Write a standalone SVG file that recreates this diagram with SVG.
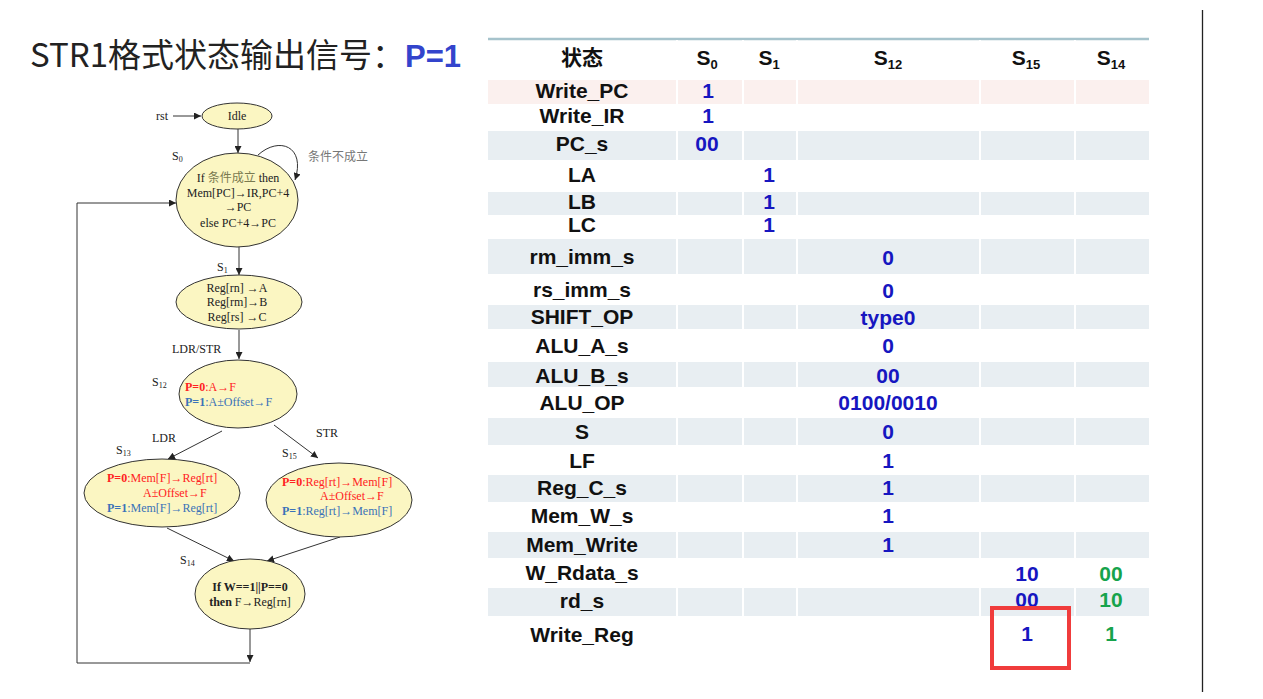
<svg xmlns="http://www.w3.org/2000/svg" width="1263" height="699" viewBox="0 0 1263 699">
<defs>
<marker id="ah" viewBox="0 0 10 10" refX="10" refY="5" markerWidth="7" markerHeight="7" orient="auto" markerUnits="userSpaceOnUse">
<path d="M0,0 L10,5 L0,10 z" fill="#222"/>
</marker>
<style>
.st{fill:#fbf6c2;stroke:#333;stroke-width:1}
.t{font-family:"Liberation Serif","Noto Sans CJK SC",serif;font-size:12px;fill:#222}
.c{text-anchor:middle}
.r{fill:#ff2222}
.b{fill:#3a72b8}
.gr{fill:#777}
.e{stroke:#333;stroke-width:1;fill:none}
.band{fill:#e8eef2}
.L{font-family:"Liberation Sans","Noto Sans CJK SC",sans-serif;font-weight:bold;font-size:21px;fill:#111;text-anchor:middle}
.v{fill:#1616c0}
.g{fill:#16a34c}
</style>
</defs>
<rect width="1263" height="699" fill="#fff"/>

<!-- title -->
<text x="30" y="67" font-family="Noto Sans CJK SC, sans-serif" font-size="33" fill="#222">STR1格式状态输出信号：<tspan font-family="Liberation Sans, sans-serif" font-weight="bold" fill="#3344cc" font-size="31">P=1</tspan></text>

<line x1="1202.5" y1="10" x2="1202.5" y2="692" stroke="#222" stroke-width="1.3"/>

<!-- connectors -->
<g id="connectors">
<line class="e" x1="173" y1="116" x2="201" y2="116" marker-end="url(#ah)"/>
<line class="e" x1="238" y1="129" x2="238" y2="153" marker-end="url(#ah)"/>
<path class="e" d="M258,155 C279,136 306,146 295,180" marker-end="url(#ah)"/>
<line class="e" x1="239" y1="247" x2="239" y2="275" marker-end="url(#ah)"/>
<line class="e" x1="239" y1="330" x2="239" y2="359" marker-end="url(#ah)"/>
<line class="e" x1="222" y1="431" x2="168" y2="459" marker-end="url(#ah)"/>
<line class="e" x1="274" y1="425" x2="318" y2="458" marker-end="url(#ah)"/>
<line class="e" x1="167" y1="528" x2="234" y2="561" marker-end="url(#ah)"/>
<line class="e" x1="340" y1="537" x2="267" y2="561" marker-end="url(#ah)"/>
<line class="e" x1="250" y1="629" x2="250" y2="662" marker-end="url(#ah)"/>
<polyline class="e" points="250,663 77,663 77,203 176,203" marker-end="url(#ah)"/>
<text class="t" x="156" y="120">rst</text>
<text class="t gr" x="308" y="161">条件不成立</text>
<text class="t" x="172" y="353">LDR/STR</text>
<text class="t" x="152" y="442">LDR</text>
<text class="t" x="316" y="437">STR</text>
</g>

<g id="idle">
<ellipse class="st" cx="237" cy="116" rx="35" ry="13"/>
<text class="t c" x="237" y="120">Idle</text>
</g>

<g id="s0">
<text class="t" x="172" y="160">S<tspan font-size="8" dy="2">0</tspan></text>
<ellipse class="st" cx="237" cy="200" rx="61" ry="47"/>
<text class="t c" x="238" y="182">If <tspan fill="#7a7a50">条件成立</tspan> then</text>
<text class="t c" x="238" y="197">Mem[PC]→IR,PC+4</text>
<text class="t c" x="238" y="211">→PC</text>
<text class="t c" x="238" y="227">else PC+4→PC</text>
</g>

<g id="s1">
<text class="t" x="217" y="271">S<tspan font-size="8" dy="2">1</tspan></text>
<ellipse class="st" cx="239" cy="302" rx="63" ry="27"/>
<text class="t c" x="237" y="292">Reg[rn] →A</text>
<text class="t c" x="237" y="306">Reg[rm]→B</text>
<text class="t c" x="237" y="321">Reg[rs] →C</text>
</g>

<g id="s12">
<text class="t" x="152" y="386">S<tspan font-size="8" dy="2">12</tspan></text>
<ellipse class="st" cx="238" cy="394" rx="59" ry="34"/>
<text class="t r" x="185" y="391"><tspan font-weight="bold">P=0</tspan>:A→F</text>
<text class="t b" x="185" y="406"><tspan font-weight="bold">P=1</tspan>:A±Offset→F</text>
</g>

<g id="s13">
<text class="t" x="116" y="454">S<tspan font-size="8" dy="2">13</tspan></text>
<ellipse class="st" cx="162" cy="493" rx="78" ry="34"/>
<text class="t r" x="107" y="482"><tspan font-weight="bold">P=0</tspan>:Mem[F]→Reg[rt]</text>
<text class="t r" x="143" y="497">A±Offset→F</text>
<text class="t b" x="107" y="512"><tspan font-weight="bold">P=1</tspan>:Mem[F]→Reg[rt]</text>
</g>

<g id="s15">
<text class="t" x="282" y="457">S<tspan font-size="8" dy="2">15</tspan></text>
<ellipse class="st" cx="339" cy="500" rx="73" ry="37"/>
<text class="t r" x="282" y="486"><tspan font-weight="bold">P=0</tspan>:Reg[rt]→Mem[F]</text>
<text class="t r" x="320" y="500">A±Offset→F</text>
<text class="t b" x="282" y="515"><tspan font-weight="bold">P=1</tspan>:Reg[rt]→Mem[F]</text>
</g>

<g id="s14">
<text class="t" x="180" y="564">S<tspan font-size="8" dy="2">14</tspan></text>
<ellipse class="st" cx="250" cy="594" rx="55" ry="35"/>
<text class="t c" x="250" y="591" font-weight="bold">If W==1||P==0</text>
<text class="t c" x="250" y="606"><tspan font-weight="bold">then</tspan> F→Reg[rn]</text>
</g>

<!-- table -->
<g id="table">
<line x1="488" y1="39" x2="1149" y2="39" stroke="#a6c3cc" stroke-width="2.5"/>
<rect x="488" y="80" width="661" height="24" fill="#fbf0ee"/>
<rect class="band" x="488" y="131" width="661" height="29"/>
<rect class="band" x="488" y="192" width="661" height="23"/>
<rect class="band" x="488" y="239" width="661" height="35"/>
<rect class="band" x="488" y="305" width="661" height="24"/>
<rect class="band" x="488" y="362" width="661" height="25"/>
<rect class="band" x="488" y="418" width="661" height="27"/>
<rect class="band" x="488" y="475" width="661" height="27"/>
<rect class="band" x="488" y="532" width="661" height="26"/>
<rect class="band" x="488" y="588" width="661" height="28"/>
<g stroke="#fff" stroke-width="2">
<line x1="677" y1="40" x2="677" y2="620"/>
<line x1="743" y1="40" x2="743" y2="620"/>
<line x1="797" y1="40" x2="797" y2="620"/>
<line x1="980" y1="40" x2="980" y2="620"/>
<line x1="1075" y1="40" x2="1075" y2="620"/>
</g>

<text class="L" x="582" y="65">状态</text>
<text class="L" x="707" y="65">S<tspan font-size="13" dy="4">0</tspan></text>
<text class="L" x="769" y="65">S<tspan font-size="13" dy="4">1</tspan></text>
<text class="L" x="888" y="65">S<tspan font-size="13" dy="4">12</tspan></text>
<text class="L" x="1026" y="65">S<tspan font-size="13" dy="4">15</tspan></text>
<text class="L" x="1111" y="65">S<tspan font-size="13" dy="4">14</tspan></text>

<text class="L" x="582" y="98">Write_PC</text>
<text class="L" x="582" y="123">Write_IR</text>
<text class="L" x="582" y="151">PC_s</text>
<text class="L" x="582" y="182">LA</text>
<text class="L" x="582" y="209">LB</text>
<text class="L" x="582" y="232">LC</text>
<text class="L" x="582" y="264">rm_imm_s</text>
<text class="L" x="582" y="297">rs_imm_s</text>
<text class="L" x="582" y="324">SHIFT_OP</text>
<text class="L" x="582" y="353">ALU_A_s</text>
<text class="L" x="582" y="383">ALU_B_s</text>
<text class="L" x="582" y="410">ALU_OP</text>
<text class="L" x="582" y="439">S</text>
<text class="L" x="582" y="468">LF</text>
<text class="L" x="582" y="495">Reg_C_s</text>
<text class="L" x="582" y="523">Mem_W_s</text>
<text class="L" x="582" y="552">Mem_Write</text>
<text class="L" x="582" y="580">W_Rdata_s</text>
<text class="L" x="582" y="608">rd_s</text>
<text class="L" x="582" y="642">Write_Reg</text>

<text class="L v" x="708" y="98">1</text>
<text class="L v" x="708" y="123">1</text>
<text class="L v" x="707" y="151">00</text>
<text class="L v" x="769" y="182">1</text>
<text class="L v" x="769" y="209">1</text>
<text class="L v" x="769" y="232">1</text>
<text class="L v" x="888" y="265">0</text>
<text class="L v" x="888" y="298">0</text>
<text class="L v" x="888" y="325">type0</text>
<text class="L v" x="888" y="353">0</text>
<text class="L v" x="888" y="383">00</text>
<text class="L v" x="888" y="410">0100/0010</text>
<text class="L v" x="888" y="439">0</text>
<text class="L v" x="888" y="468">1</text>
<text class="L v" x="888" y="495">1</text>
<text class="L v" x="888" y="523">1</text>
<text class="L v" x="888" y="552">1</text>
<text class="L v" x="1027" y="581">10</text>
<text class="L v" x="1027" y="607">00</text>
<text class="L v" x="1027" y="641">1</text>
<text class="L g" x="1111" y="581">00</text>
<text class="L g" x="1111" y="607">10</text>
<text class="L g" x="1111" y="641">1</text>

<rect x="992" y="608" width="77" height="60" fill="none" stroke="#f03c3c" stroke-width="4"/>
</g>
</svg>
